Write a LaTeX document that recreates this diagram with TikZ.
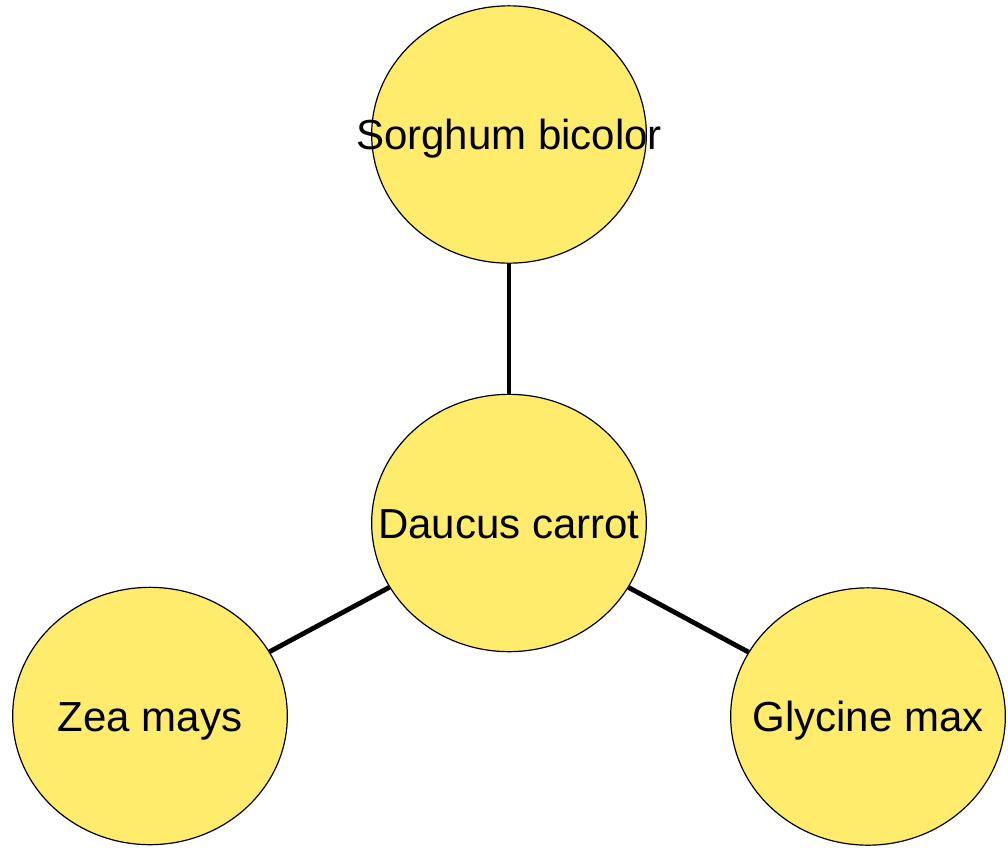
\documentclass[tikz,border=0pt]{standalone}
\usepackage{fontspec}
\setmainfont{Liberation Sans}
\usetikzlibrary{shapes.geometric}
\definecolor{nodefill}{RGB}{255,236,108}
\newcommand{\lbl}[1]{\makebox[0pt][c]{#1}}
\begin{document}
\begin{tikzpicture}[x=0.75pt,y=-0.75pt,
  bubble/.style={ellipse,draw=black,line width=0.9pt,fill=nodefill,
    minimum width=206pt,minimum height=193pt,inner sep=0pt,
    font=\fontsize{31.5}{36}\selectfont,text height=22.6pt,text depth=0pt},
  link/.style={line width=3.6pt,draw=black}]
\useasboundingbox (0,0) rectangle (1008,851);
\node[bubble] (top) at (509,134.5) {\lbl{Sorghum bicolor}};
\node[bubble] (mid) at (509,523) {\lbl{Daucus carrot}};
\node[bubble] (left) at (150,716) {\lbl{Zea mays}};
\node[bubble] (right) at (868,716.5) {\lbl{Glycine max}};
\draw[link] (top) -- (mid);
\draw[link] (mid) -- (left);
\draw[link] (mid) -- (right);
\end{tikzpicture}
\end{document}
